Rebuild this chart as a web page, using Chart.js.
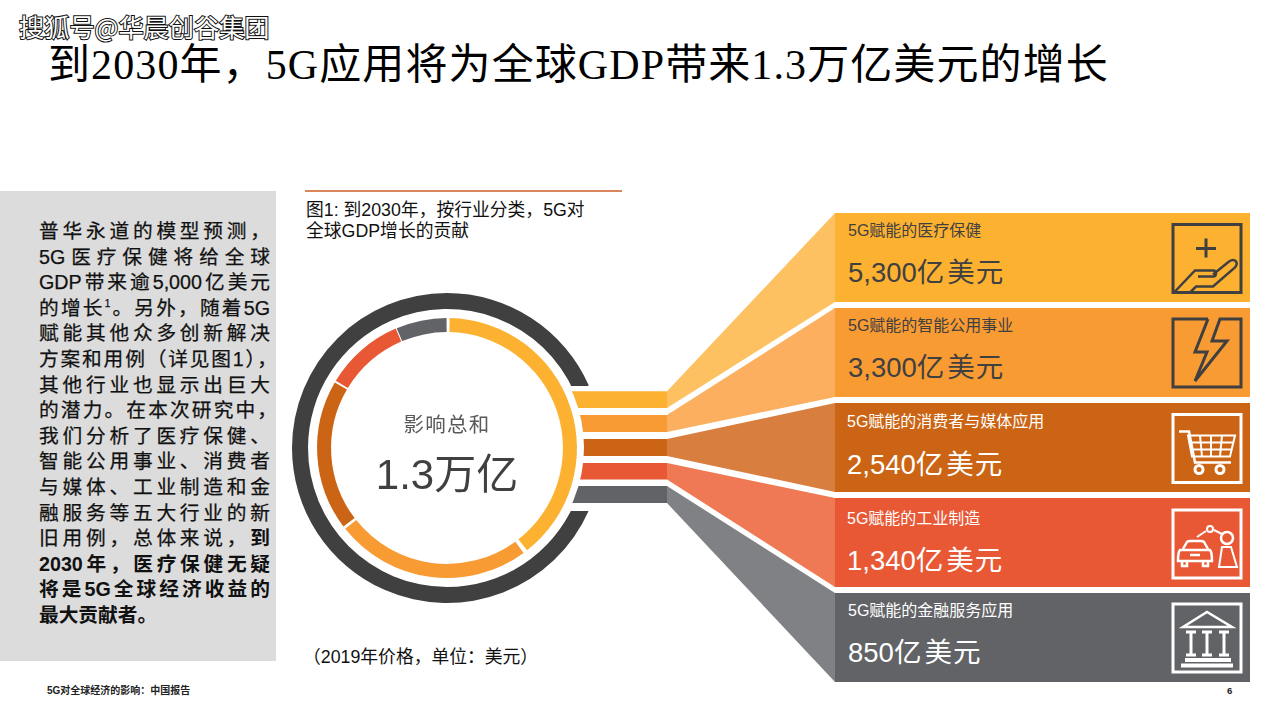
<!DOCTYPE html>
<html lang="zh">
<head>
<meta charset="utf-8">
<title>5G</title>
<script src="https://cdn.jsdelivr.net/npm/chart.js@4/dist/chart.umd.min.js"></script>
<style>
body { margin: 0; background: #fff; font-family: "Liberation Sans", "Noto Sans CJK SC", sans-serif; }
#page { position: relative; width: 1280px; height: 720px; overflow: hidden; }
#page > * { position: absolute; }
.t { white-space: nowrap; }
#title { left: 48px; top: 37px; font: 42px/56px "Liberation Serif", "Noto Sans CJK SC", serif; color: #000; letter-spacing: 1.1px; }
#mark { left: 19px; top: 9px; font: 25.2px/34px "Noto Sans CJK SC", sans-serif; color: #fff; -webkit-text-stroke: 2px #111; paint-order: stroke fill; }
#panel { left: 0; top: 191px; width: 276px; height: 470px; background: #dcdcdc; }
.line { left: 39px; width: 231px; font-size: 19.7px; line-height: 26px; color: #111; text-align: justify; text-align-last: justify; white-space: nowrap; -webkit-text-stroke: 0.25px #111; }
.line b { -webkit-text-stroke: 0; }
.line.end { text-align-last: left; }
.line.hang { width: 238px; }
.line sup { font-size: 10px; line-height: 0; font-weight: 400; }
.cap { left: 306px; font-size: 17.8px; line-height: 21px; color: #111; }
.card { left: 835px; width: 415px; height: 89px; }
.card .lab { position: absolute; left: 13px; top: 8px; font-size: 16px; line-height: 20px; white-space: nowrap; }
.card .val { position: absolute; left: 13px; top: 41px; font-size: 27.5px; line-height: 38px; white-space: nowrap; }
.card .val span { margin-left: 3px; letter-spacing: 1px; }
#chartBox { left: 287px; top: 287.5px; width: 320px; height: 320px; }
#centerA { left: 347px; width: 200px; top: 411px; text-align: center; font-size: 20.5px; line-height: 28px; color: #58595b; letter-spacing: 1.2px; }
#centerB { left: 347px; width: 200px; top: 447px; text-align: center; font-size: 42px; line-height: 56px; color: #404041; }
#foot { left: 47px; top: 685px; font-size: 10px; line-height: 12px; font-weight: 700; color: #222; }
#num { left: 1227px; top: 685px; font-size: 9.5px; line-height: 12px; font-weight: 700; color: #222; }
</style>
</head>
<body>
<div id="page">
  <svg id="deco" width="1280" height="720" style="left:0;top:0"></svg>
  <div id="chartBox"><canvas id="impactChart" width="320" height="320"></canvas></div>
  <div id="mark" class="t">搜狐号@华晨创谷集团</div>
  <div id="title" class="t">到2030年，5G应用将为全球GDP带来1.3万亿美元的增长</div>
  <div id="panel"></div>
  <div class="t cap" style="top:200px">图1: 到2030年，按行业分类，5G对<br>全球GDP增长的贡献</div>
  <div class="t" id="centerA">影响总和</div>
  <div class="t" id="centerB">1.3万亿</div>
  <div class="t cap" style="left:303px;top:647px">（2019年价格，单位：美元）</div>
  <div class="t" id="foot">5G对全球经济的影响：中国报告</div>
  <div class="t" id="num">6</div>
</div>
<script>
// 数据 (亿美元)
var categories = ['医疗保健', '智能公用事业', '消费者与媒体应用', '工业制造', '金融服务应用'];
var impactValues = [5300, 3300, 2540, 1340, 850];

var sliceColors = ['#fdb130', '#f99b33', '#cb6515', '#e85835', '#626366'];
var fanColors = ['#fdc162', '#fbaf5f', '#d87e3e', '#ef7955', '#808184'];
var cardText = ['#404041', '#404041', '#ffffff', '#ffffff', '#ffffff'];

var bodyLines = [
    '普华永道的模型预测，',
    '5G医疗保健将给全球',
    'GDP带来逾5,000亿美元',
    '的增长<sup>1</sup>。另外，随着5G',
    '赋能其他众多创新解决',
    '方案和用例（详见图1），',
    '其他行业也显示出巨大',
    '的潜力。在本次研究中，',
    '我们分析了医疗保健、',
    '智能公用事业、消费者',
    '与媒体、工业制造和金',
    '融服务等五大行业的新',
    '旧用例，总体来说，<b>到</b>',
    '<b>2030年，医疗保健无疑</b>',
    '<b>将是5G全球经济收益的</b>',
    '<b>最大贡献者。</b>'
];
var hangLines = [5, 7]; // 行尾标点伸出

var page = document.getElementById('page');
var svg = document.getElementById('deco');
var markup = '';

// 左侧文字
bodyLines.forEach(function(txt, i) {
    var d = document.createElement('div');
    d.className = 'line' + (i == bodyLines.length - 1 ? ' end' : '') + (hangLines.indexOf(i) >= 0 ? ' hang' : '');
    d.style.top = (218 + i * 25.6) + 'px';
    d.innerHTML = txt;
    page.appendChild(d);
});

// 色带和扇形
var bandTop = [391.3, 415, 439, 463, 486];
var bandBottom = [408, 432, 456, 479.5, 503];
var cardTop = [213, 308, 403, 498, 593];
var labelShift = [0, 0, 1, 3, 0];
var valueShift = [0, 0, 2, 3, 0];
var textShift = [0, 0, -1, -1, 0];
categories.forEach(function(name, i) {
    markup += '<polygon fill="' + sliceColors[i] + '" points="560,' + bandTop[i] + ' 667,' + bandTop[i] + ' 667,' + bandBottom[i] + ' 560,' + bandBottom[i] + '"/>';
    markup += '<polygon fill="' + fanColors[i] + '" points="667,' + bandTop[i] + ' 835,' + cardTop[i] + ' 835,' + (cardTop[i] + 89) + ' 667,' + bandBottom[i] + '"/>';

    var card = document.createElement('div');
    card.className = 'card';
    card.style.top = cardTop[i] + 'px';
    card.style.background = sliceColors[i];
    card.style.color = cardText[i];
    card.innerHTML = '<div class="lab" style="margin-top:' + labelShift[i] + 'px;margin-left:' + textShift[i] + 'px">5G赋能的' + name + '</div>' +
        '<div class="val" style="margin-top:' + valueShift[i] + 'px;margin-left:' + textShift[i] + 'px">' +
        impactValues[i].toLocaleString('en-US') + '亿<span>美元</span></div>';
    page.appendChild(card);
});
markup += '<circle cx="447" cy="447.5" r="137" fill="#fff"/>';
markup += '<rect x="305" y="190" width="317" height="2" fill="#d9865a"/>';
svg.innerHTML = markup;

// 图标
function icon(y, color, inner) {
    return '<g transform="translate(1173,' + y + ')" fill="none" stroke="' + color + '" stroke-width="3">' + inner + '</g>';
}
var dark = '#404041', light = '#ffffff';
var iconMarkup = '';
iconMarkup += icon(224.5, dark, '<rect width="68" height="68"/><path d="M33 14v19M23 24h20" />' +
    '<path d="M1 68 22 46H40C44 46 44 52 40 52H25M40 50 56 37C62 33 66 38 62 43L40 62H23L17 68" stroke-width="2.5"/>');
iconMarkup += icon(319, dark, '<path d="M35 0H0V68H68V0H47L39 22H54L22 62 34 33H22L35 0"/>');
iconMarkup += icon(414.5, light, '<rect width="68" height="68"/><path d="M6 17H16L22 48H58" stroke-width="2.5"/>' +
    '<path d="M15 21H62L57 42H19ZM16 28H60M18 35H59M27 21 29 42M38 21V42M49 21 47 42" stroke-width="2"/>' +
    '<circle cx="26" cy="55" r="4" stroke-width="3"/><circle cx="47" cy="55" r="4" stroke-width="3"/>');
iconMarkup += icon(510, light, '<rect width="68" height="68"/>' +
    '<path d="M10 39 14 32C15 31 16 31 17 31H28C29 31 30 31 31 32L35 39" stroke-width="2.5"/>' +
    '<path d="M7 40H37C39 42 39 46 39 51H5C5 46 5 42 7 40ZM9 51V56H14V51M30 51V56H35V51M17 45H27" stroke-width="2.5"/>' +
    '<path d="M46 57 49 37H58L64 57Z" stroke-width="2"/>' +
    '<circle cx="54" cy="28" r="6" stroke-width="2.5"/><circle cx="37" cy="19" r="3" stroke-width="2"/><path d="M41 20 49 24M24 27 33 21" stroke-width="2"/>');
iconMarkup += icon(604, light, '<rect width="68" height="68"/><path d="M10 23 34 8 59 23Z" stroke-width="2.5"/>' +
    '<path d="M18 28V51M34 28V51M51 28V51M13 28H23M29 28H39M46 28H56M13 51H23M29 51H39M46 51H56" stroke-width="3"/>' +
    '<path d="M12 56H58M8 61.5H60" stroke-width="4"/>');
var iconSvg = document.createElementNS('http://www.w3.org/2000/svg', 'svg');
iconSvg.setAttribute('width', '1280');
iconSvg.setAttribute('height', '720');
iconSvg.style.left = '0';
iconSvg.style.top = '0';
iconSvg.innerHTML = iconMarkup;
page.appendChild(iconSvg);

// 暗色外环两端是水平切口
var flatCutPlugin = {
    id: 'flatCut',
    afterDatasetsDraw: function(chart) {
        var ctx = chart.ctx;
        ctx.clearRect(280, 97.5, 40, 7);
        ctx.clearRect(280, 215.5, 40, 7);
    }
};

var impactChart = new Chart(document.getElementById('impactChart'), {
    type: 'doughnut',
    data: {
        labels: categories,
        datasets: [
            { data: [1], backgroundColor: ['#404041'], rotation: 113.8, circumference: 312.4, weight: 16, borderWidth: 0 },
            { data: [1], backgroundColor: ['rgba(0,0,0,0)'], weight: 11, borderWidth: 0 },
            { data: impactValues, backgroundColor: sliceColors, weight: 14, borderWidth: 0, spacing: 4 }
        ]
    },
    options: {
        responsive: false,
        animation: false,
        radius: 155,
        cutout: '73.5%',
        plugins: { legend: { display: false }, tooltip: { enabled: false } }
    },
    plugins: [flatCutPlugin]
});
</script>
</body>
</html>
